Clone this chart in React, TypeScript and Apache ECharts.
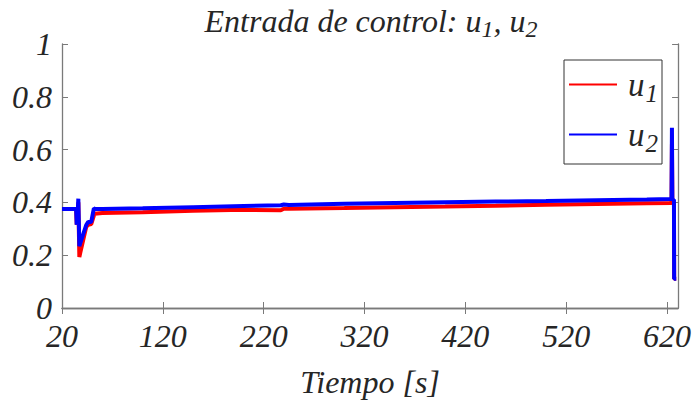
import React, { useEffect, useRef } from "react";
import * as echarts from "echarts";

// Time samples [s]
const timeS = [20, 34, 34.6, 35.2, 36.2, 37.2, 38.1, 44, 46, 49, 51.6, 52.3, 60, 100, 150, 200, 237, 240, 245, 300, 350, 400, 450, 500, 550, 600, 624.5, 624.9, 625.3, 626.9, 627.1, 629.2];
// Control input u1 (red)
const u1 = [0.375, 0.375, 0.316, 0.33, 0.4, 0.193, 0.209, 0.307, 0.315, 0.318, 0.35, 0.357, 0.36, 0.363, 0.368, 0.372, 0.37, 0.376, 0.376, 0.379, 0.382, 0.384, 0.387, 0.391, 0.394, 0.397, 0.398, 0.62, 0.4, 0.4, 0.111, 0.111];
// Control input u2 (blue)
const u2 = [0.375, 0.375, 0.316, 0.33, 0.414, 0.234, 0.246, 0.314, 0.326, 0.326, 0.377, 0.376, 0.375, 0.378, 0.382, 0.386, 0.389, 0.392, 0.39, 0.395, 0.398, 0.401, 0.403, 0.405, 0.408, 0.411, 0.413, 0.683, 0.41, 0.41, 0.111, 0.111];

const xTicks = [20, 120, 220, 320, 420, 520, 620];
const seriesNames = ["u1", "u2"];
const seriesColors = ["#ff0000", "#0000ff"];

export default function App() {
  const ref = useRef<HTMLDivElement>(null);
  useEffect(() => {
    document.body.style.margin = "0";
    const chart = echarts.init(ref.current!, null, { renderer: "svg" });
    const font = "Liberation Serif";
    const axisColor = "#7a7a7a";
    const textColor = "#262626";
    const labelStyle = {
      fontFamily: font,
      fontStyle: "italic" as const,
      fontWeight: "normal" as const,
      fontSize: 32,
      color: textColor,
    };
    const axisLine = { show: true, lineStyle: { color: axisColor, width: 1.3 } };
    const tick = { show: true, inside: true, length: 6, lineStyle: { color: axisColor, width: 1 } };
    const sub = (n: string) => `{u|u}{s|${n}}`;
    const base = { fontFamily: font, fontStyle: "italic", fontWeight: "normal", color: textColor };
    const richTitle = {
      u: { ...base, fontSize: 32 },
      s: { ...base, fontSize: 24, padding: [16, 0, 0, 0] },
      t: { ...base, fontSize: 32 },
    };
    const richLegend = {
      u: { ...base, fontSize: 33, padding: [0, 0, 0, 6] },
      s: { ...base, fontSize: 25, padding: [18, 0, 0, 1] },
    };
    const option: any = {
      animation: false,
      backgroundColor: "#ffffff",
      title: {
        text: `{t|Entrada de control: }${sub("1")}{t|, }${sub("2")}`,
        left: 366,
        textAlign: "center",
        top: -4,
        textStyle: { fontFamily: font, fontWeight: "normal", fontStyle: "italic", rich: richTitle },
      },
      legend: {
        data: seriesNames,
        orient: "vertical",
        left: 564,
        top: 60,
        icon: "rect",
        itemWidth: 48,
        itemHeight: 2,
        itemGap: 12,
        padding: [8, 4, 8, 5],
        borderColor: "#333",
        borderWidth: 1,
        backgroundColor: "#ffffff",
        formatter: (name: string) => sub(name.slice(1)),
        textStyle: { fontFamily: font, rich: richLegend },
      },
      grid: { left: 62, right: 14, top: 44, bottom: 88, containLabel: false },
      xAxis: [
        {
          type: "value",
          min: 20,
          max: 631,
          axisLine,
          axisTick: { ...tick, customValues: xTicks },
          axisLabel: { ...labelStyle, margin: 12, customValues: xTicks },
          splitLine: { show: false },
          name: "Tiempo [s]",
          nameLocation: "middle",
          nameGap: 58,
          nameTextStyle: { ...labelStyle },
        },
        {
          type: "value",
          position: "top",
          min: 20,
          max: 631,
          axisLine,
          axisTick: { ...tick, customValues: xTicks },
          axisLabel: { show: false },
          splitLine: { show: false },
        },
      ],
      yAxis: [
        {
          type: "value",
          min: 0,
          max: 1,
          interval: 0.2,
          axisLine,
          axisTick: tick,
          axisLabel: { ...labelStyle, margin: 10 },
          splitLine: { show: false },
        },
        {
          type: "value",
          position: "right",
          min: 0,
          max: 1,
          interval: 0.2,
          axisLine,
          axisTick: tick,
          axisLabel: { show: false },
          splitLine: { show: false },
        },
      ],
      series: [u1, u2].map((vals, k) => ({
        name: seriesNames[k],
        type: "line",
        xAxisIndex: 0,
        yAxisIndex: 0,
        showSymbol: false,
        symbol: "none",
        color: seriesColors[k],
        lineStyle: { color: seriesColors[k], width: 4 },
        data: timeS.map((t, i) => [t, vals[i]]),
      })),
    };
    chart.setOption(option);
    return () => chart.dispose();
  }, []);
  return <div ref={ref} style={{ position: "absolute", left: 0, top: 0, width: 694, height: 403 }} />;
}
